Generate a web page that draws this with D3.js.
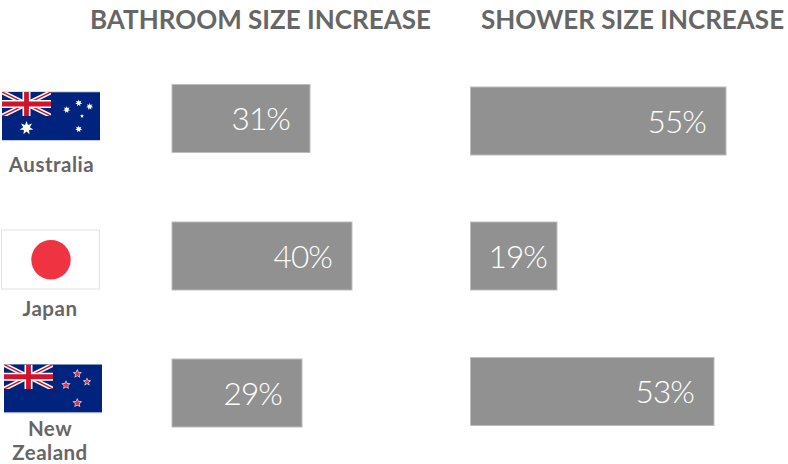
<!DOCTYPE html>
<html lang="en">
<head>
<meta charset="utf-8">
<title>Bathroom and shower size increase</title>
<script src="https://d3js.org/d3.v7.min.js"></script>
<style>
  html, body { margin: 0; padding: 0; background: #fff; }
  svg { display: block; font-family: Lato, "Open Sans", sans-serif; }
  .head { font-size: 26px; font-weight: 700; fill: #666; }
  .country { font-size: 20.5px; font-weight: 700; fill: #666; text-anchor: middle; letter-spacing: 0.5px; }
  .val { font-size: 31.5px; font-weight: 300; fill: #fff; text-anchor: end; letter-spacing: -0.9px; }
  .bar { fill: #919191; stroke: #bdbdbd; stroke-width: 1; }
</style>
</head>
<body>
<script>
// data
var countries = ["Australia", "Japan", "New Zealand"];
var bathroom = [31, 40, 29];
var shower = [55, 19, 53];
var headings = ["BATHROOM SIZE INCREASE", "SHOWER SIZE INCREASE"];

var svg = d3.select("body").append("svg").attr("width", 788).attr("height", 464);
var defs = svg.append("defs");

// the rows are not quite evenly spaced in the original, so ordinal scales
var yBath = d3.scaleOrdinal().domain(countries).range([84.5, 222, 359]);
var yShower = d3.scaleOrdinal().domain(countries).range([87, 222, 357.5]);
// bar lengths in the original are hand placed too, hence the extra stops
var xBath = d3.scaleLinear().domain([0, 29, 31, 40]).range([172, 302, 310, 352]);
var xShower = d3.scaleLinear().domain([0, 19, 53, 55]).range([470.5, 557, 714, 726]);
var barH = 68;

function panel(values, x, y, cls) {
  var g = svg.append("g").attr("class", cls);
  g.selectAll("rect").data(values).enter().append("rect")
    .attr("class", "bar")
    .attr("x", x(0))
    .attr("y", function(d, i) { return y(countries[i]); })
    .attr("width", function(d) { return x(d) - x(0); })
    .attr("height", barH);
  g.selectAll("text").data(values).enter().append("text")
    .attr("class", "val")
    .attr("x", function(d) { return x(d) - (d < 20 ? 10 : 20); })
    .attr("y", function(d, i) { return y(countries[i]) + barH / 2 + 11.5; })
    .text(function(d) { return d + "%"; });
}
panel(bathroom, xBath, yBath, "bathroom");
panel(shower, xShower, yShower, "shower");

svg.append("text").attr("class", "head").attr("x", 90).attr("y", 29).text(headings[0]);
svg.append("text").attr("class", "head").attr("x", 481).attr("y", 29).text(headings[1]);

// country names
svg.append("text").attr("class", "country").attr("x", 51.5).attr("y", 172).text("Australia");
svg.append("text").attr("class", "country").attr("x", 50).attr("y", 316).text("Japan");
svg.append("text").attr("class", "country").attr("x", 50).attr("y", 436).text("New");
svg.append("text").attr("class", "country").attr("x", 50).attr("y", 460).text("Zealand");

// flags
function star(cx, cy, r, n) {
  var pts = [];
  var inner = r * 0.48;
  for (var i = 0; i < n * 2; i++) {
    var a = -Math.PI / 2 + i * Math.PI / n;
    var rr = i % 2 ? inner : r;
    pts.push((cx + rr * Math.cos(a)).toFixed(1) + "," + (cy + rr * Math.sin(a)).toFixed(1));
  }
  return pts.join(" ");
}

function unionJack(g, w, h, id) {
  defs.append("clipPath").attr("id", id).append("rect").attr("width", w).attr("height", h);
  var u = g.append("g").attr("clip-path", "url(#" + id + ")");
  u.append("rect").attr("width", w).attr("height", h).attr("fill", "#00247d");
  u.append("path").attr("d", "M0,0L" + w + "," + h + "M" + w + ",0L0," + h)
    .attr("stroke", "#fff").attr("stroke-width", 4.5);
  u.append("path").attr("d", "M0,0L" + w + "," + h + "M" + w + ",0L0," + h)
    .attr("stroke", "#cf142b").attr("stroke-width", 1.5);
  u.append("path").attr("d", "M" + w / 2 + ",0V" + h + "M0," + h / 2 + "H" + w)
    .attr("stroke", "#fff").attr("stroke-width", 8);
  u.append("path").attr("d", "M" + w / 2 + ",0V" + h + "M0," + h / 2 + "H" + w)
    .attr("stroke", "#cf142b").attr("stroke-width", 4.8);
}

// Australia
var au = svg.append("g").attr("transform", "translate(2,92)");
au.append("rect").attr("width", 98).attr("height", 48).attr("fill", "#00247d");
au.append("rect").attr("y", -0.5).attr("width", 98).attr("height", 0.8).attr("fill", "#b9bfd8");
au.append("rect").attr("y", 48).attr("width", 98).attr("height", 0.8).attr("fill", "#b9bfd8");
unionJack(au, 49, 24, "jackAu");
[[24.5, 36, 7, 7], [76.7, 11, 3.6, 7], [87.7, 14.5, 3.6, 7], [64.7, 17.7, 3.6, 7], [80, 24, 2.1, 5], [76.7, 37, 3.6, 7]].forEach(function(s) {
  au.append("polygon").attr("points", star(s[0], s[1], s[2], s[3])).attr("fill", "#fff");
});

// Japan
var jp = svg.append("g").attr("transform", "translate(1.5,230)");
jp.append("rect").attr("width", 98).attr("height", 59).attr("fill", "#fff").attr("stroke", "#e2e2e2").attr("stroke-width", 1);
jp.append("circle").attr("cx", 49.5).attr("cy", 29.7).attr("r", 19.7).attr("fill", "#ef3340");

// New Zealand
var nz = svg.append("g").attr("transform", "translate(4,364.5)");
nz.append("rect").attr("width", 98).attr("height", 48).attr("fill", "#00247d");
nz.append("rect").attr("y", 48).attr("width", 98).attr("height", 0.8).attr("fill", "#b9bfd8");
unionJack(nz, 49, 24.5, "jackNz");
[[73.3, 9.3, 3.4], [83, 17.3, 3.0], [62, 20.5, 3.4], [73.3, 38.5, 3.7]].forEach(function(s) {
  nz.append("polygon").attr("points", star(s[0], s[1], s[2] + 1.4, 5)).attr("fill", "#e8e8f0");
  nz.append("polygon").attr("points", star(s[0], s[1], s[2], 5)).attr("fill", "#d8344a");
});
</script>
</body>
</html>
